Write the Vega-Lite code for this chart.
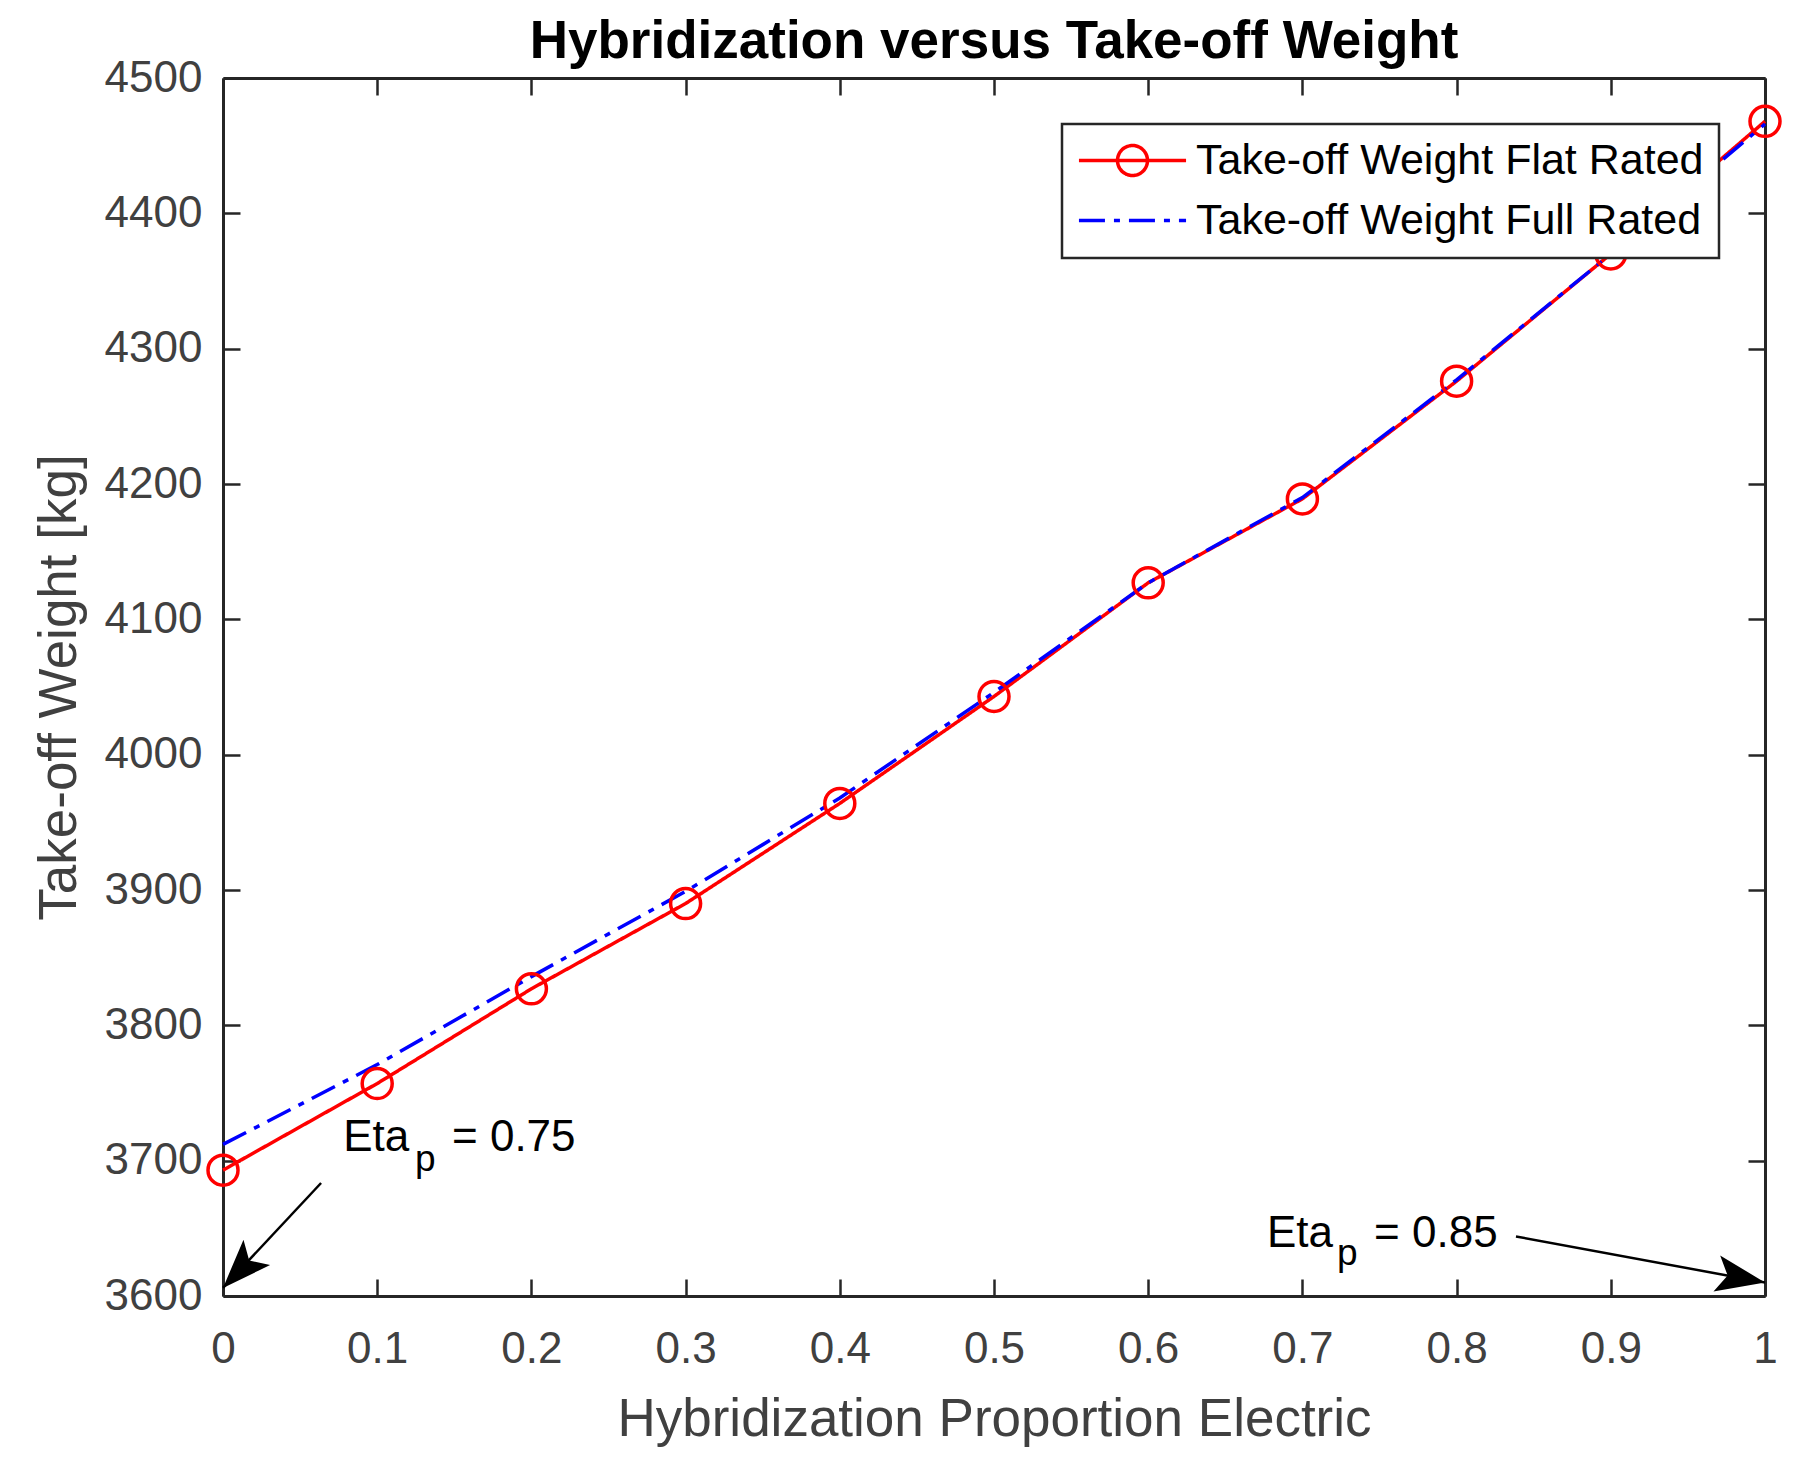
{
  "$schema": "https://vega.github.io/schema/vega-lite/v6.json",
  "width": 1542,
  "height": 1218,
  "autosize": "none",
  "padding": {"left": 223, "top": 78, "right": 28, "bottom": 177},
  "background": "#ffffff",
  "view": {"stroke": null},
  "title": {
    "text": "Hybridization versus Take-off Weight",
    "font": "Liberation Sans",
    "fontSize": 53,
    "fontWeight": "bold",
    "color": "#000000",
    "anchor": "middle",
    "frame": "group",
    "offset": -13
  },
  "config": {
    "font": "Liberation Sans",
    "axis": {
      "domainColor": "#262626",
      "domainWidth": 3,
      "tickColor": "#262626",
      "tickWidth": 2.5,
      "tickSize": -17,
      "labelColor": "#404040",
      "labelFont": "Liberation Sans",
      "labelFontSize": 44,
      "labelFlush": false,
      "labelOverlap": false,
      "titleColor": "#404040",
      "titleFont": "Liberation Sans",
      "titleFontSize": 53,
      "titleFontWeight": "normal",
      "grid": false
    },
    "legend": {
      "title": null,
      "fillColor": "#ffffff",
      "strokeColor": "#262626",
      "padding": 15,
      "labelFont": "Liberation Sans",
      "labelFontSize": 43,
      "labelColor": "#000000",
      "labelLimit": 900,
      "labelOffset": 42,
      "symbolSize": 900,
      "symbolOffset": 34,
      "symbolStrokeWidth": 3.5,
      "rowPadding": 16,
      "zindex": 1
    }
  },
  "datasets": {
    "series": [
      {"x": 0.0, "weight": 3693, "series": "Take-off Weight Flat Rated"},
      {"x": 0.1, "weight": 3757, "series": "Take-off Weight Flat Rated"},
      {"x": 0.2, "weight": 3827, "series": "Take-off Weight Flat Rated"},
      {"x": 0.3, "weight": 3890, "series": "Take-off Weight Flat Rated"},
      {"x": 0.4, "weight": 3964, "series": "Take-off Weight Flat Rated"},
      {"x": 0.5, "weight": 4043, "series": "Take-off Weight Flat Rated"},
      {"x": 0.6, "weight": 4127, "series": "Take-off Weight Flat Rated"},
      {"x": 0.7, "weight": 4189, "series": "Take-off Weight Flat Rated"},
      {"x": 0.8, "weight": 4276, "series": "Take-off Weight Flat Rated"},
      {"x": 0.9, "weight": 4370, "series": "Take-off Weight Flat Rated"},
      {"x": 1.0, "weight": 4468, "series": "Take-off Weight Flat Rated"},
      {"x": 0.0, "weight": 3712, "series": "Take-off Weight Full Rated"},
      {"x": 0.1, "weight": 3771, "series": "Take-off Weight Full Rated"},
      {"x": 0.2, "weight": 3836, "series": "Take-off Weight Full Rated"},
      {"x": 0.3, "weight": 3899, "series": "Take-off Weight Full Rated"},
      {"x": 0.4, "weight": 3968, "series": "Take-off Weight Full Rated"},
      {"x": 0.5, "weight": 4046, "series": "Take-off Weight Full Rated"},
      {"x": 0.6, "weight": 4127, "series": "Take-off Weight Full Rated"},
      {"x": 0.7, "weight": 4190, "series": "Take-off Weight Full Rated"},
      {"x": 0.8, "weight": 4277, "series": "Take-off Weight Full Rated"},
      {"x": 0.9, "weight": 4370, "series": "Take-off Weight Full Rated"},
      {"x": 1.0, "weight": 4466, "series": "Take-off Weight Full Rated"}
    ],
    "notes": [
      {"x": 0.078, "weight": 3707, "t": "Eta"},
      {"x": 0.1485, "weight": 3707, "t": "= 0.75"},
      {"x": 0.677, "weight": 3636, "t": "Eta"},
      {"x": 0.7465, "weight": 3636, "t": "= 0.85"}
    ],
    "subs": [
      {"x": 0.1245, "weight": 3692, "t": "p"},
      {"x": 0.7225, "weight": 3623, "t": "p"}
    ],
    "arrows": [
      {"id": "left", "x": 0.0636, "weight": 3683.5, "x2": 0.0, "weight2": 3606},
      {"id": "right", "x": 0.8385, "weight": 3644, "x2": 1.0, "weight2": 3610}
    ]
  },
  "layer": [
    {
      "layer": [
        {
          "data": {"name": "series"},
          "mark": {"type": "line", "strokeWidth": 3.5},
          "encoding": {
            "x": {
              "field": "x",
              "type": "quantitative",
              "scale": {"domain": [0, 1], "nice": false, "zero": false},
              "axis": {
                "orient": "bottom",
                "title": "Hybridization Proportion Electric",
                "values": [0, 0.1, 0.2, 0.3, 0.4, 0.5, 0.6, 0.7, 0.8, 0.9, 1],
                "format": ".1~f",
                "labelPadding": 48,
                "titlePadding": 22
              }
            },
            "y": {
              "field": "weight",
              "type": "quantitative",
              "scale": {"domain": [3600, 4500], "nice": false, "zero": false},
              "axis": {
                "orient": "left",
                "title": "Take-off Weight [kg]",
                "values": [3600, 3700, 3800, 3900, 4000, 4100, 4200, 4300, 4400, 4500],
                "format": "d",
                "labelPadding": 38,
                "titlePadding": 18
              }
            },
            "color": {
              "field": "series",
              "type": "nominal",
              "scale": {
                "domain": ["Take-off Weight Flat Rated", "Take-off Weight Full Rated"],
                "range": ["#ff0000", "#0000ff"]
              },
              "legend": {
                "orient": "top-right",
                "offset": 46,
                "encode": {
                  "legend": {"update": {"strokeWidth": {"value": 2.5}}},
                  "symbols": {
                    "update": {
                      "fill": {"value": "transparent"},
                      "shape": {"signal": "datum.value === 'Take-off Weight Flat Rated' ? 'M-3.57,0H3.57M1,0A1,1 0 1,1 -1,0A1,1 0 1,1 1,0' : 'M-3.57,0H3.57'"}
                    }
                  }
                }
              }
            },
            "strokeDash": {
              "field": "series",
              "type": "nominal",
              "scale": {
                "domain": ["Take-off Weight Flat Rated", "Take-off Weight Full Rated"],
                "range": [[1, 0], [26, 9, 6, 9]]
              },
              "legend": {
                "orient": "top-right",
                "offset": 46,
                "encode": {
                  "legend": {"update": {"strokeWidth": {"value": 2.5}}},
                  "symbols": {
                    "update": {
                      "fill": {"value": "transparent"},
                      "shape": {"signal": "datum.value === 'Take-off Weight Flat Rated' ? 'M-3.57,0H3.57M1,0A1,1 0 1,1 -1,0A1,1 0 1,1 1,0' : 'M-3.57,0H3.57'"}
                    }
                  }
                }
              }
            }
          }
        },
        {
          "data": {"name": "series"},
          "transform": [{"filter": "datum.series === 'Take-off Weight Flat Rated'"}],
          "mark": {"type": "point", "shape": "circle", "filled": false, "color": "#ff0000", "size": 900, "strokeWidth": 3.5, "opacity": 1},
          "encoding": {
            "x": {"field": "x", "type": "quantitative"},
            "y": {"field": "weight", "type": "quantitative"}
          }
        },
        {
          "data": {"name": "arrows"},
          "mark": {"type": "rule", "color": "#000000", "strokeWidth": 2.5},
          "encoding": {
            "x": {"field": "x", "type": "quantitative"},
            "y": {"field": "weight", "type": "quantitative"},
            "x2": {"field": "x2"},
            "y2": {"field": "weight2"}
          }
        },
        {
          "data": {"name": "arrows"},
          "transform": [{"filter": "datum.id === 'left'"}],
          "mark": {"type": "point", "shape": "M0,0L0.75,2L0,1.55L-0.75,2Z", "filled": true, "color": "#000000", "size": 2401, "angle": 223.6, "opacity": 1, "strokeWidth": 0},
          "encoding": {
            "x": {"field": "x2", "type": "quantitative"},
            "y": {"field": "weight2", "type": "quantitative"}
          }
        },
        {
          "data": {"name": "arrows"},
          "transform": [{"filter": "datum.id === 'right'"}],
          "mark": {"type": "point", "shape": "M0,0L0.75,2L0,1.55L-0.75,2Z", "filled": true, "color": "#000000", "size": 2401, "angle": 100.5, "opacity": 1, "strokeWidth": 0},
          "encoding": {
            "x": {"field": "x2", "type": "quantitative"},
            "y": {"field": "weight2", "type": "quantitative"}
          }
        },
        {
          "data": {"name": "notes"},
          "mark": {"type": "text", "align": "left", "baseline": "alphabetic", "font": "Liberation Sans", "fontSize": 44, "color": "#000000"},
          "encoding": {
            "x": {"field": "x", "type": "quantitative"},
            "y": {"field": "weight", "type": "quantitative"},
            "text": {"field": "t"}
          }
        },
        {
          "data": {"name": "subs"},
          "mark": {"type": "text", "align": "left", "baseline": "alphabetic", "font": "Liberation Sans", "fontSize": 37, "color": "#000000"},
          "encoding": {
            "x": {"field": "x", "type": "quantitative"},
            "y": {"field": "weight", "type": "quantitative"},
            "text": {"field": "t"}
          }
        }
      ]
    },
    {
      "data": {"name": "series"},
      "mark": {"type": "point", "opacity": 0},
      "encoding": {
        "x": {
          "field": "x",
          "type": "quantitative",
          "axis": {
            "orient": "top",
            "labels": false,
            "title": null,
            "values": [0, 0.1, 0.2, 0.3, 0.4, 0.5, 0.6, 0.7, 0.8, 0.9, 1]
          }
        },
        "y": {
          "field": "weight",
          "type": "quantitative",
          "axis": {
            "orient": "right",
            "labels": false,
            "title": null,
            "values": [3600, 3700, 3800, 3900, 4000, 4100, 4200, 4300, 4400, 4500]
          }
        }
      }
    }
  ],
  "resolve": {"axis": {"x": "independent", "y": "independent"}}
}
